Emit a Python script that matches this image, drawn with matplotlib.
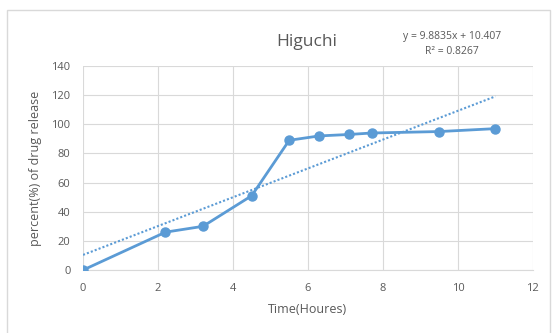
import matplotlib
matplotlib.use("Agg")
from matplotlib import pyplot as plt
from matplotlib.patches import Rectangle

# data
time_h = [0, 2.2, 3.2, 4.5, 5.5, 6.3, 7.1, 7.7, 9.5, 11]
release = [0, 26, 30, 51, 89, 92, 93, 94, 95, 97]
slope = 9.8835
intercept = 10.407
x_ticks = [0, 2, 4, 6, 8, 10, 12]
y_ticks = [0, 20, 40, 60, 80, 100, 120, 140]

blue = "#5B9BD5"
grey = "#595959"

plt.rcParams["font.family"] = ["Open Sans", "DejaVu Sans"]

fig = plt.figure(figsize=(5.52, 3.33), dpi=100)
fig.patches.append(Rectangle((0.013, -0.01), 0.984, 0.98, transform=fig.transFigure,
                             fill=False, edgecolor="#d9d9d9", linewidth=1))
ax = fig.add_axes([0.1504, 0.189, 0.815, 0.613])

ax.plot(time_h, release, color=blue, linewidth=2, marker="o", markersize=6.5, zorder=3)
trend_x = [time_h[0], time_h[-1]]
trend_y = [slope * t + intercept for t in trend_x]
ax.plot(trend_x, trend_y, color=blue, linewidth=1.5, linestyle=(0, (1, 1)), zorder=2)

ax.set_xlim(0, 12)
ax.set_ylim(0, 140)
ax.set_xticks(x_ticks)
ax.set_yticks(y_ticks)
ax.grid(color="#d9d9d9", linewidth=0.8)
ax.set_axisbelow(True)
for side in ["top", "right", "left"]:
    ax.spines[side].set_visible(False)
ax.spines["bottom"].set_color("#d9d9d9")
ax.tick_params(axis="x", length=0, labelsize=8, colors=grey, pad=9)
ax.tick_params(axis="y", length=0, labelsize=8, colors=grey, pad=9)

ax.set_xlabel("Time(Houres)", fontsize=9, color=grey, labelpad=7)
ax.set_ylabel("percent(%) of drug release", fontsize=9, color=grey, labelpad=7)

fig.text(0.556, 0.874, "Higuchi", fontsize=12.5, color=grey, ha="center", va="center")
fig.text(0.819, 0.889, "y = 9.8835x + 10.407", fontsize=7.5, color=grey, ha="center", va="center")
fig.text(0.819, 0.844, "R² = 0.8267", fontsize=7.5, color=grey, ha="center", va="center")

fig.savefig("out.png", dpi=100)
